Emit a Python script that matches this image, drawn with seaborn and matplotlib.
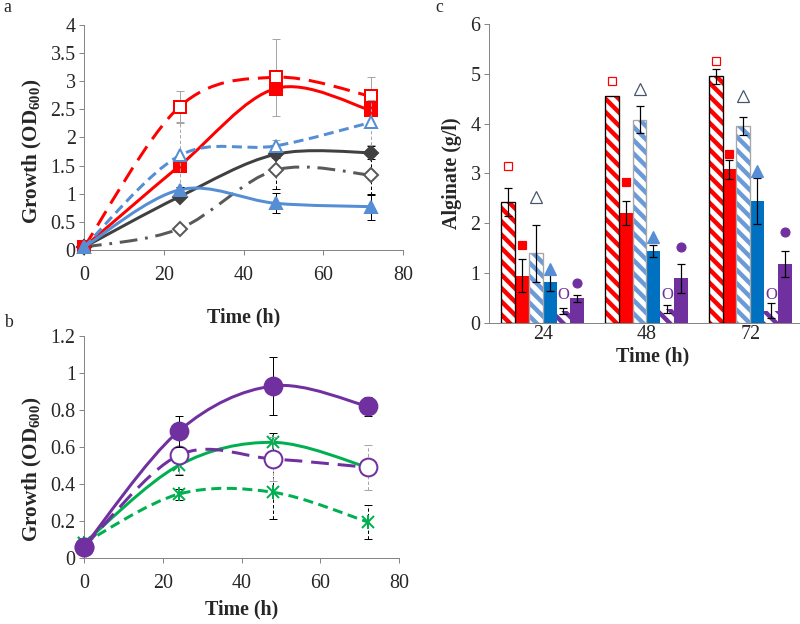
import numpy as np
import pandas as pd
import matplotlib
matplotlib.use("Agg")
import matplotlib.pyplot as plt
from matplotlib.path import Path
from matplotlib.patches import PathPatch, Rectangle
from matplotlib.ticker import FuncFormatter, MultipleLocator
import seaborn as sns

# ---- panel a: growth (OD600) ----
time = [0, 24, 48, 72]
a_red_open = [0.05, 2.55, 3.07, 2.73]
a_red_open_err = [0, 0.28, 0.68, 0.34]
a_red_fill = [0.05, 1.50, 2.87, 2.48]
a_red_fill_err = [0, 0.08, 0.08, 0.06]
a_blue_open = [0.05, 1.68, 1.85, 2.27]
a_blue_open_err = [0, 0.57, 0.10, 0.40]
a_blue_fill = [0.05, 1.07, 0.83, 0.77]
a_blue_fill_err = [0, 0.05, 0.18, 0.23]
a_grey_fill = [0.05, 0.95, 1.70, 1.73]
a_grey_fill_err = [0, 0.04, 0.06, 0.12]
a_grey_open = [0.05, 0.38, 1.42, 1.33]
a_grey_open_err = [0, 0.05, 0.34, 0.35]

# ---- panel b: growth (OD600) ----
b_purple_fill = [0.06, 0.685, 0.93, 0.82]
b_purple_fill_err = [0, 0.085, 0.155, 0.05]
b_purple_open = [0.06, 0.555, 0.535, 0.49]
b_purple_open_err = [0, 0.10, 0.12, 0.12]
b_green_fill = [0.08, 0.50, 0.625, 0.49]
b_green_fill_err = [0, 0.05, 0.05, 0.03]
b_green_open = [0.08, 0.345, 0.355, 0.195]
b_green_open_err = [0, 0.03, 0.145, 0.09]

# ---- panel c: alginate (g/l) ----
c_times = ["24", "48", "72"]
c_series = ["red_hatch", "red_fill", "blue_hatch", "blue_fill", "purple_hatch", "purple_fill"]
c_red_hatch = [2.42, 4.55, 4.95]
c_red_fill = [0.95, 2.20, 3.08]
c_blue_hatch = [1.40, 4.08, 3.95]
c_blue_fill = [0.82, 1.45, 2.45]
c_purple_hatch = [0.25, 0.28, 0.25]
c_purple_fill = [0.50, 0.90, 1.18]
c_red_hatch_err = [0.28, 0, 0.15]
c_red_fill_err = [0.33, 0.24, 0.19]
c_blue_hatch_err = [0.57, 0.27, 0.18]
c_blue_fill_err = [0.18, 0.12, 0.46]
c_purple_hatch_err = [0.06, 0.08, 0.15]
c_purple_fill_err = [0.07, 0.29, 0.26]
# heights of the symbols printed above the bars
c_red_hatch_sym = [3.15, 4.85, 5.25]
c_red_fill_sym = [1.57, 2.82, 3.40]
c_blue_hatch_sym = [2.52, 4.70, 4.56]
c_blue_fill_sym = [1.08, 1.73, 3.04]
c_purple_hatch_sym = [0.56, 0.56, 0.56]
c_purple_fill_sym = [0.81, 1.53, 1.82]

red = "#FF0000"
lblue = "#558ED5"
dblue = "#0070C0"
grey = "#404040"
purple = "#7030A0"
green = "#00B050"
axis_grey = "#868686"

sns.set_theme(style="white")
plt.rcParams["font.family"] = ["Liberation Serif", "DejaVu Serif"]
plt.rcParams["mathtext.fontset"] = "custom"
plt.rcParams["mathtext.bf"] = "Liberation Serif:bold"
plt.rcParams["mathtext.rm"] = "Liberation Serif:bold"
plt.rcParams["mathtext.default"] = "bf"
plt.rcParams["hatch.linewidth"] = 4.0
plt.rcParams["lines.scale_dashes"] = False


def smooth_path(x, y):
    # excel style smoothed line: cubic bezier through the points
    pts = np.column_stack([x, y]).astype(float)
    n = len(pts)
    verts = [pts[0]]
    codes = [Path.MOVETO]
    for i in range(n - 1):
        p0 = pts[max(i - 1, 0)]
        p1 = pts[i]
        p2 = pts[i + 1]
        p3 = pts[min(i + 2, n - 1)]
        verts += [p1 + (p2 - p0) / 6, p2 - (p3 - p1) / 6, p2]
        codes += [Path.CURVE4] * 3
    return Path(verts, codes)


def style_axes(ax):
    for side in ["top", "right"]:
        ax.spines[side].set_visible(False)
    for side in ["left", "bottom"]:
        ax.spines[side].set_color(axis_grey)
        ax.spines[side].set_linewidth(0.9)
    ax.tick_params(direction="out", length=4.5, width=0.9, color=axis_grey,
                   labelsize=18, pad=3, left=True, bottom=True)
    ax.grid(False)


def draw_series(ax, y, err, color, marker, hollow, ls, ms, ecolor, els, z, star=False):
    ax.add_patch(PathPatch(smooth_path(time, y), fill=False, edgecolor=color, lw=2.7,
                           linestyle=ls, capstyle="butt", zorder=z, clip_on=False))
    keep = [i for i in range(len(time)) if err[i] > 0]
    eb = ax.errorbar([time[i] for i in keep], [y[i] for i in keep],
                     yerr=[err[i] for i in keep], fmt="none", ecolor=ecolor,
                     elinewidth=0.9, capsize=3.5, capthick=0.9, zorder=z + 0.1)
    eb[2][0].set_linestyle(els)
    if star:
        ax.plot(time, y, ls="none", marker="x", ms=10, mew=1.8, color=color,
                zorder=z + 0.2, clip_on=False)
        ax.plot(time, y, ls="none", marker="|", ms=13, mew=1.8, color=color,
                zorder=z + 0.2, clip_on=False)
    else:
        ax.plot(time, y, ls="none", marker=marker, ms=ms,
                mfc="white" if hollow else color, mec=color, mew=1.8,
                zorder=z + 0.2, clip_on=False)


fig = plt.figure(figsize=(10, 7.8), dpi=80)
ax_a = fig.add_axes([0.105, 0.5994, 0.399, 0.3606])
ax_b = fig.add_axes([0.105, 0.1058, 0.394, 0.3558])
ax_c = fig.add_axes([0.611, 0.4824, 0.389, 0.4792])

fmt = FuncFormatter(lambda v, pos: f"{v:g}")

# panel a
draw_series(ax_a, a_grey_open, a_grey_open_err, "#595959", "D", True, (0, (16, 7, 2.5, 7)), 9.5, "black", (0, (3, 2)), 2)
draw_series(ax_a, a_grey_fill, a_grey_fill_err, grey, "D", False, "-", 9.5, "black", "-", 3)
draw_series(ax_a, a_red_open, a_red_open_err, red, "s", True, (0, (15, 8)), 10, "#A6A6A6", "-", 4)
draw_series(ax_a, a_red_fill, a_red_fill_err, red, "s", False, "-", 10, "black", "-", 5)
draw_series(ax_a, a_blue_open, a_blue_open_err, lblue, "^", True, (0, (9, 5)), 11, "#A6A6A6", (0, (3, 2)), 6)
draw_series(ax_a, a_blue_fill, a_blue_fill_err, lblue, "^", False, "-", 11, "black", "-", 7)
ax_a.set_xlim(0, 80)
ax_a.set_ylim(0, 4)
ax_a.xaxis.set_major_locator(MultipleLocator(20))
ax_a.yaxis.set_major_locator(MultipleLocator(0.5))
ax_a.yaxis.set_major_formatter(fmt)
style_axes(ax_a)
ax_a.tick_params(axis="x", pad=10)
ax_a.set_xlabel("Time (h)", fontsize=18, fontweight="bold")
ax_a.set_ylabel("Growth (OD$_{600}$)", fontsize=19, fontweight="bold")
ax_a.xaxis.set_label_coords(0.5, -0.298)
ax_a.yaxis.set_label_coords(-0.16, 0.44)

# panel b
draw_series(ax_b, b_green_open, b_green_open_err, green, None, False, (0, (9, 5)), 0, "black", (0, (3, 2)), 2, star=True)
draw_series(ax_b, b_green_fill, b_green_fill_err, green, None, False, "-", 0, "black", "-", 3, star=True)
draw_series(ax_b, b_purple_open, b_purple_open_err, purple, "o", True, (0, (16, 8)), 16, "#A6A6A6", (0, (3, 2)), 4)
draw_series(ax_b, b_purple_fill, b_purple_fill_err, purple, "o", False, "-", 16, "black", "-", 5)
ax_b.set_xlim(0, 80)
ax_b.set_ylim(0, 1.2)
ax_b.xaxis.set_major_locator(MultipleLocator(20))
ax_b.yaxis.set_major_locator(MultipleLocator(0.2))
ax_b.yaxis.set_major_formatter(fmt)
style_axes(ax_b)
ax_b.tick_params(axis="x", pad=10)
ax_b.set_xlabel("Time (h)", fontsize=18, fontweight="bold")
ax_b.set_ylabel("Growth (OD$_{600}$)", fontsize=19, fontweight="bold")
ax_b.xaxis.set_label_coords(0.5, -0.234)
ax_b.yaxis.set_label_coords(-0.162, 0.40)
for ax in (ax_a, ax_b):
    ax.xaxis.label.set_va("center")
    ax.yaxis.label.set_va("center")

# panel c
c_values = [c_red_hatch, c_red_fill, c_blue_hatch, c_blue_fill, c_purple_hatch, c_purple_fill]
c_errs = [c_red_hatch_err, c_red_fill_err, c_blue_hatch_err, c_blue_fill_err, c_purple_hatch_err, c_purple_fill_err]
c_syms = [c_red_hatch_sym, c_red_fill_sym, c_blue_hatch_sym, c_blue_fill_sym, c_purple_hatch_sym, c_purple_fill_sym]
rows = []
for name, vals in zip(c_series, c_values):
    for t, v in zip(c_times, vals):
        rows.append({"time": t, "series": name, "alginate": v})
c_df = pd.DataFrame(rows)

face = ["white", red, "white", dblue, "white", purple]
hatch_col = [red, None, "#6A9AD8", None, purple, None]
outline = ["black", None, "#A6A6A6", None, None, None]
sym_style = [
    dict(marker="s", ms=7, mfc="white", mec=red, mew=1.1),
    dict(marker="s", ms=7, mfc=red, mec=red, mew=1.1),
    dict(marker="^", ms=10, mfc="white", mec="#44546A", mew=1.1),
    dict(marker="^", ms=10, mfc=lblue, mec=lblue, mew=1.1),
    None,
    dict(marker="o", ms=8, mfc=purple, mec=purple, mew=1.1),
]

sns.barplot(data=c_df, x="time", y="alginate", hue="series", order=c_times,
            hue_order=c_series, palette=dict(zip(c_series, face)), width=0.8,
            errorbar=None, legend=False, saturation=1, ax=ax_c)

bars = sorted(ax_c.patches, key=lambda p: p.get_x())
for k, p in enumerate(bars):
    ti, si = divmod(k, len(c_series))
    cx = p.get_x() + p.get_width() / 2
    h = p.get_height()
    if hatch_col[si] is not None:
        p.set_facecolor("white")
        p.set_edgecolor(hatch_col[si])
        p.set_hatch("\\\\")
        p.set_linewidth(0)
        if outline[si] is not None:
            ax_c.add_patch(Rectangle((p.get_x(), 0), p.get_width(), h, fill=False,
                                     edgecolor=outline[si], lw=1.2, zorder=p.get_zorder() + 0.1))
    else:
        p.set_facecolor(face[si])
        p.set_edgecolor("none")
        p.set_linewidth(0)
    e = c_errs[si][ti]
    if e > 0:
        ax_c.errorbar(cx, h, yerr=e, fmt="none", ecolor="black", elinewidth=1.1,
                      capsize=4, capthick=1.1, zorder=5)
    if sym_style[si] is None:
        ax_c.text(cx, c_syms[si][ti], "O", color=purple, fontsize=15,
                  ha="center", va="center")
    else:
        ax_c.plot(cx, c_syms[si][ti], ls="none", zorder=5, **sym_style[si])

ax_c.set_xlim(-0.52, 2.48)
ax_c.set_ylim(0, 6)
ax_c.yaxis.set_major_locator(MultipleLocator(1))
style_axes(ax_c)
ax_c.tick_params(axis="x", length=0, pad=2)
ax_c.set_xlabel("Time (h)", fontsize=18, fontweight="bold")
ax_c.set_ylabel("Alginate (g/l)", fontsize=18, fontweight="bold")
ax_c.xaxis.set_label_coords(0.527, -0.112)
ax_c.yaxis.set_label_coords(-0.119, 0.5)
ax_c.xaxis.label.set_va("center")
ax_c.yaxis.label.set_va("center")

fig.text(7 / 800, 1 - 8 / 624, "a", fontsize=16, ha="center", va="center")
fig.text(8 / 800, 1 - 322 / 624, "b", fontsize=16, ha="center", va="center")
fig.text(439 / 800, 1 - 8 / 624, "c", fontsize=16, ha="center", va="center")

fig.savefig("out.png", dpi=80)
